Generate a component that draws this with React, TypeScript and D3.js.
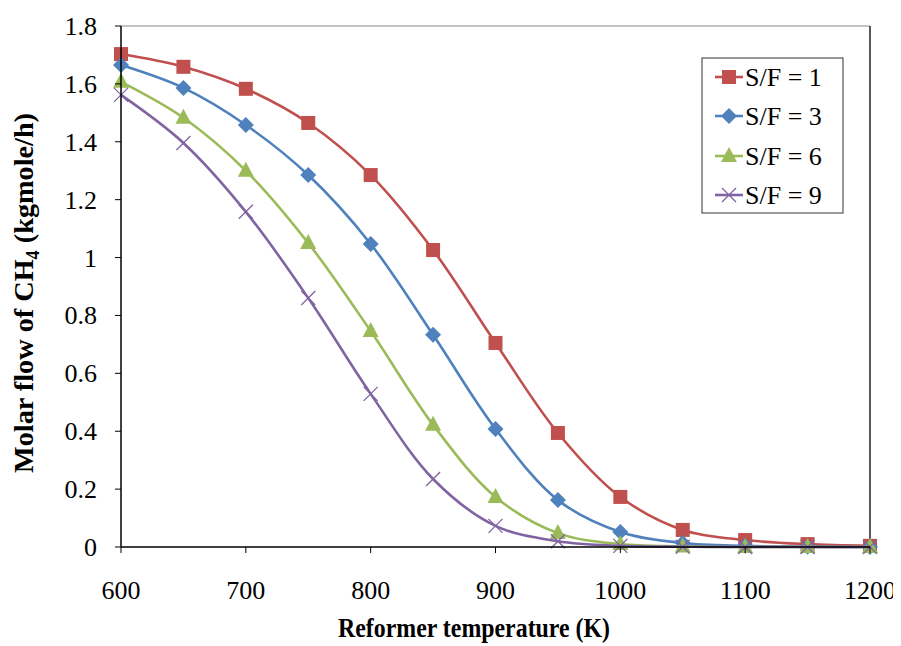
import React, { useEffect, useRef } from "react";
import * as d3 from "d3";

const temps = [600, 650, 700, 750, 800, 850, 900, 950, 1000, 1050, 1100, 1150, 1200];
const sf1 = [1.703, 1.659, 1.583, 1.465, 1.285, 1.026, 0.705, 0.394, 0.173, 0.059, 0.024, 0.01, 0.004];
const sf3 = [1.665, 1.586, 1.458, 1.285, 1.047, 0.733, 0.408, 0.162, 0.052, 0.014, 0.004, 0.001, 0.0];
const sf6 = [1.607, 1.483, 1.3, 1.05, 0.746, 0.422, 0.173, 0.048, 0.01, 0.002, 0.0, 0.0, 0.0];
const sf9 = [1.562, 1.396, 1.158, 0.86, 0.529, 0.235, 0.073, 0.02, 0.004, 0.001, 0.0, 0.0, 0.0];
const seriesNames = ["S/F = 1", "S/F = 3", "S/F = 6", "S/F = 9"];
const xTicks = [600, 700, 800, 900, 1000, 1100, 1200];
const yTicks = [0, 0.2, 0.4, 0.6, 0.8, 1, 1.2, 1.4, 1.6, 1.8];

const colors = ["#C0504D", "#4F81BD", "#9BBB59", "#8064A2"];
const markers = ["square", "diamond", "triangle", "cross"];
const FONT = "'Liberation Serif', 'Times New Roman', serif";

function Marker({ type, x, y, color }: { type: string; x: number; y: number; color: string }) {
  if (type === "square") return <rect x={x - 7} y={y - 7} width={14} height={14} fill={color} />;
  if (type === "diamond")
    return <path d={`M${x},${y - 8}L${x + 8},${y}L${x},${y + 8}L${x - 8},${y}Z`} fill={color} />;
  if (type === "triangle")
    return <path d={`M${x},${y - 9}L${x + 8},${y + 6}L${x - 8},${y + 6}Z`} fill={color} />;
  return (
    <path d={`M${x - 7},${y - 7}L${x + 7},${y + 7}M${x + 7},${y - 7}L${x - 7},${y + 7}`} stroke={color} strokeWidth={1.3} fill="none" />
  );
}

export default function App() {
  const ref = useRef<SVGSVGElement>(null);
  useEffect(() => {
    if (!ref.current) return;
    d3.select(ref.current)
      .selectAll<SVGElement, unknown>("text, tspan")
      .each(function () {
        this.style.setProperty("font-family", FONT, "important");
      });
  }, []);

  const W = 901, H = 646;
  const left = 121, right = 870, top = 26, bottom = 547;
  const x = d3.scaleLinear().domain([600, 1200]).range([left, right]);
  const y = d3.scaleLinear().domain([0, 1.8]).range([bottom, top]);
  const data = [sf1, sf3, sf6, sf9];
  const line = d3
    .line<number>()
    .x((_, i) => x(temps[i]))
    .y((d) => y(d))
    .curve(d3.curveCatmullRom.alpha(0.5));

  const legendY = [77, 116, 156, 195];
  const ts = { fontFamily: "Liberation Serif" };

  return (
    <svg
      ref={ref}
      width={W}
      height={H}
      style={{ display: "block", marginLeft: -8, marginTop: -8, fontFamily: "Liberation Serif" }}
    >
      <style>{`svg text, svg tspan { font-family: ${FONT} !important; }`}</style>
      <rect x={0} y={0} width={W} height={H} fill="#fff" />
      <line x1={left} x2={right} y1={top} y2={top} stroke="#888" strokeWidth={1} />
      <line x1={right} x2={right} y1={top} y2={bottom} stroke="#222" strokeWidth={1.5} />
      {data.map((s, si) => (
        <g key={si}>
          <path d={line(s) || ""} fill="none" stroke={colors[si]} strokeWidth={2.6} />
          {s.map((v, i) => (
            <Marker key={i} type={markers[si]} x={x(temps[i])} y={y(v)} color={colors[si]} />
          ))}
        </g>
      ))}
      <line x1={left} x2={left} y1={top} y2={bottom} stroke="#000" strokeWidth={1.5} />
      <line x1={left} x2={right} y1={bottom} y2={bottom} stroke="#000" strokeWidth={1.5} />
      {yTicks.map((t) => (
        <g key={t}>
          <line x1={left - 6} x2={left} y1={y(t)} y2={y(t)} stroke="#000" strokeWidth={1} />
          <text x={97} y={y(t) + 9} textAnchor="end" fontSize={26} style={ts}>
            {String(t)}
          </text>
        </g>
      ))}
      {xTicks.map((t) => (
        <g key={t}>
          <line x1={x(t)} x2={x(t)} y1={bottom} y2={bottom + 6} stroke="#000" strokeWidth={1} />
          <text x={x(t)} y={599} textAnchor="middle" fontSize={26} style={ts}>
            {t}
          </text>
        </g>
      ))}
      <text x={474} y={637} textAnchor="middle" fontSize={28} fontWeight="bold" style={ts} textLength={272} lengthAdjust="spacingAndGlyphs">
        Reformer temperature (K)
      </text>
      <g transform={`translate(33,293) rotate(-90)`}>
        <text x={-180} y={0} fontSize={28} fontWeight="bold" style={ts} textLength={360} lengthAdjust="spacingAndGlyphs">
          Molar flow of CH<tspan fontSize={18} dy={6}>4</tspan>
          <tspan dy={-6}> (kgmole/h)</tspan>
        </text>
      </g>
      <rect x={702} y={58} width={141} height={155} fill="#fff" stroke="#333" strokeWidth={1} />
      {seriesNames.map((n, i) => (
        <g key={n}>
          <line x1={715} x2={743} y1={legendY[i]} y2={legendY[i]} stroke={colors[i]} strokeWidth={2.6} />
          <Marker type={markers[i]} x={729} y={legendY[i]} color={colors[i]} />
          <text x={745} y={legendY[i] + 9} fontSize={26} style={ts}>
            {n}
          </text>
        </g>
      ))}
    </svg>
  );
}
